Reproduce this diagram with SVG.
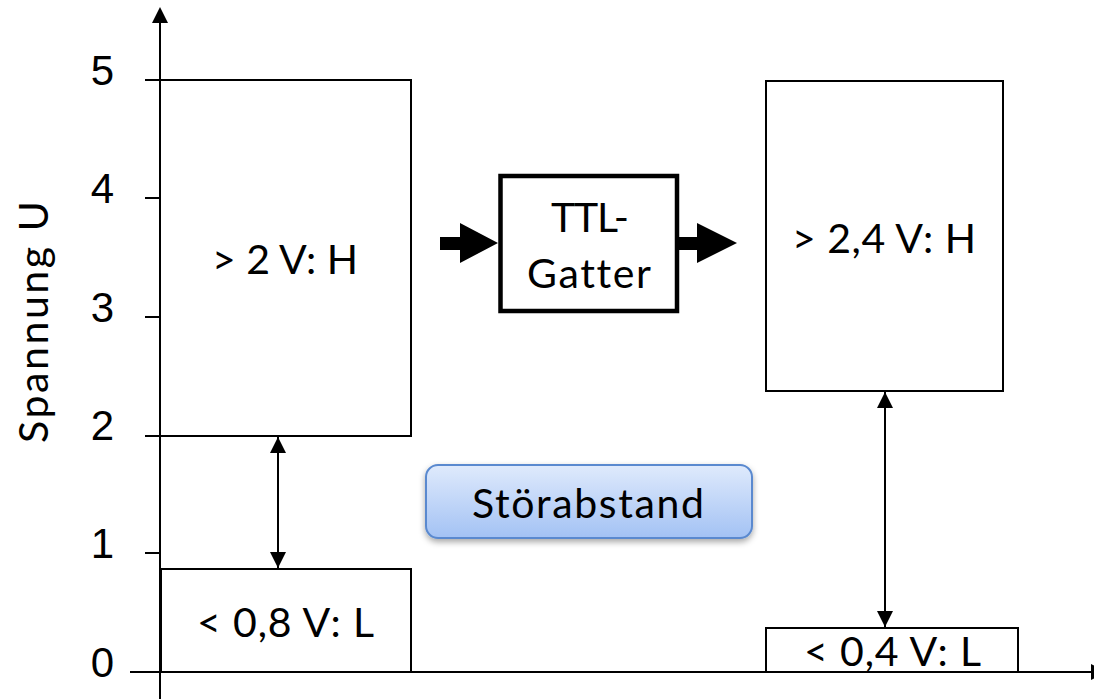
<svg xmlns="http://www.w3.org/2000/svg" width="1094" height="699" viewBox="0 0 1094 699">
<defs>
<style>
.ln{stroke:#000;stroke-width:2;fill:none}
.box{stroke:#000;stroke-width:2;fill:#fff}
.num{font-family:"Liberation Sans",Arial,sans-serif;font-size:42px;fill:#000;text-anchor:end}
.lbl{font-family:Lato,"Open Sans",sans-serif;font-size:41px;fill:#000;text-anchor:middle;font-variant-ligatures:none;font-feature-settings:"liga" 0}
.head{fill:#000}
</style>
<linearGradient id="btn" x1="0" y1="0" x2="0" y2="1">
<stop offset="0" stop-color="#dfeafc"/>
<stop offset="1" stop-color="#a3c2f4"/>
</linearGradient>
<filter id="sh" x="-10%" y="-20%" width="120%" height="150%">
<feDropShadow dx="0" dy="3" stdDeviation="3" flood-color="#000" flood-opacity="0.35"/>
</filter>
<marker id="ah" viewBox="0 0 16 16" refX="16" refY="8" markerWidth="16" markerHeight="16" markerUnits="userSpaceOnUse" orient="auto-start-reverse">
<path d="M0,0 L16,8 L0,16 Z" fill="#000"/>
</marker>
</defs>
<rect width="1094" height="699" fill="#fff"/>

<g id="axes">
<line class="ln" x1="160" y1="22" x2="160" y2="699"/>
<path class="head" d="M160,7 L168,23 L152,23 Z"/>
<line class="ln" x1="130" y1="672" x2="1092" y2="672"/>
<path class="head" d="M1107,672 L1091,664 L1091,680 Z"/>
<line class="ln" x1="145" y1="80" x2="160" y2="80"/>
<line class="ln" x1="145" y1="198" x2="160" y2="198"/>
<line class="ln" x1="145" y1="317" x2="160" y2="317"/>
<line class="ln" x1="145" y1="436" x2="160" y2="436"/>
<line class="ln" x1="145" y1="553" x2="160" y2="553"/>
<text class="num" x="114" y="85">5</text>
<text class="num" x="114" y="203">4</text>
<text class="num" x="114" y="322">3</text>
<text class="num" x="114" y="440">2</text>
<text class="num" x="114" y="558">1</text>
<text class="num" x="114" y="677">0</text>
<text class="lbl" font-size="42" textLength="242" transform="translate(48,322) rotate(-90)">Spannung U</text>
</g>

<g id="in-high">
<rect class="box" x="160" y="80" width="251" height="356"/>
<text class="lbl" x="285" y="274" textLength="146">&gt; 2 V: H</text>
</g>
<g id="in-low">
<rect class="box" x="161" y="569" width="250" height="103"/>
<text class="lbl" x="285.5" y="637" textLength="177">&lt; 0,8 V: L</text>
</g>
<g id="out-high">
<rect class="box" x="766" y="81" width="237" height="310"/>
<text class="lbl" x="884" y="253" font-size="42" textLength="184">&gt; 2,4 V: H</text>
</g>
<g id="out-low">
<rect class="box" x="766" y="628" width="252" height="44"/>
<text class="lbl" x="892.5" y="666" textLength="177">&lt; 0,4 V: L</text>
</g>

<g id="gate">
<rect x="500.5" y="176" width="176.5" height="135" fill="#fff" stroke="#000" stroke-width="4.5"/>
<text class="lbl" x="590" y="232" font-size="44" textLength="78">TTL-</text>
<text class="lbl" x="589" y="288" font-size="44" textLength="124">Gatter</text>
</g>

<g id="stoerabstand">
<rect x="426" y="465" width="326" height="73" rx="12" fill="url(#btn)" stroke="#5a89cf" stroke-width="2" filter="url(#sh)"/>
<text class="lbl" x="588" y="518" font-size="42" textLength="232">Störabstand</text>
</g>

<g id="connectors">
<path class="head" d="M440,237 L460,237 L460,223 L498,243 L460,263 L460,250 L440,250 Z"/>
<path class="head" d="M679,237 L697,237 L697,223 L737,243 L697,263 L697,250 L679,250 Z"/>
<line class="ln" x1="278" y1="437" x2="278" y2="568" marker-start="url(#ah)" marker-end="url(#ah)"/>
<line class="ln" x1="885" y1="392" x2="885" y2="627" marker-start="url(#ah)" marker-end="url(#ah)"/>
</g>
</svg>
